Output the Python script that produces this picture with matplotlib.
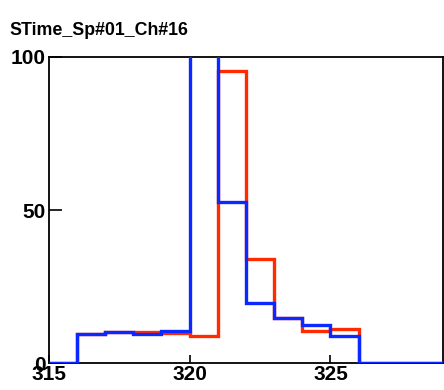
import numpy as np
import matplotlib
matplotlib.use("Agg")
import matplotlib.pyplot as plt

plt.rcParams['font.family'] = ['Liberation Sans', 'DejaVu Sans']

# bin edges, one count per 1-unit bin from 315 to 329
edges = np.arange(315, 330)
red_counts = [0, 9.5, 10.1, 10.2, 9.8, 9.0, 95.3, 34.0, 14.7, 10.6, 11.2, 0, 0, 0]
blue_counts = [0, 9.5, 10.1, 9.5, 10.6, 250, 52.7, 19.6, 14.7, 12.5, 9.0, 0, 0, 0]
x_ticks = [315, 320, 325]
y_ticks = [0, 50, 100]
title = "STime_Sp#01_Ch#16"

fig = plt.figure(figsize=(4.44, 3.90), dpi=100)
ax = fig.add_axes([0.110, 0.0685, 0.888, 0.786])

ax.stairs(red_counts, edges, color='#ff2a00', linewidth=2.4, baseline=0, zorder=3)
ax.stairs(blue_counts, edges, color='#0a28ff', linewidth=2.4, baseline=0, zorder=4)

ax.set_xlim(315, 329)
ax.set_ylim(0, 100)
ax.set_xticks(x_ticks)
ax.set_yticks(y_ticks)
ax.tick_params(axis='both', direction='in', labelsize=15, width=1.2,
               top=False, right=False)
ax.tick_params(axis='y', length=9, pad=2)
ax.tick_params(axis='x', length=6, pad=1)
for lab in ax.get_xticklabels() + ax.get_yticklabels():
    lab.set_fontweight('bold')
for sp in ax.spines.values():
    sp.set_linewidth(1.3)

fig.text(0.022, 0.922, title, fontsize=12.8, fontweight='bold', va='center', ha='left')

fig.savefig("out.png", dpi=100)
